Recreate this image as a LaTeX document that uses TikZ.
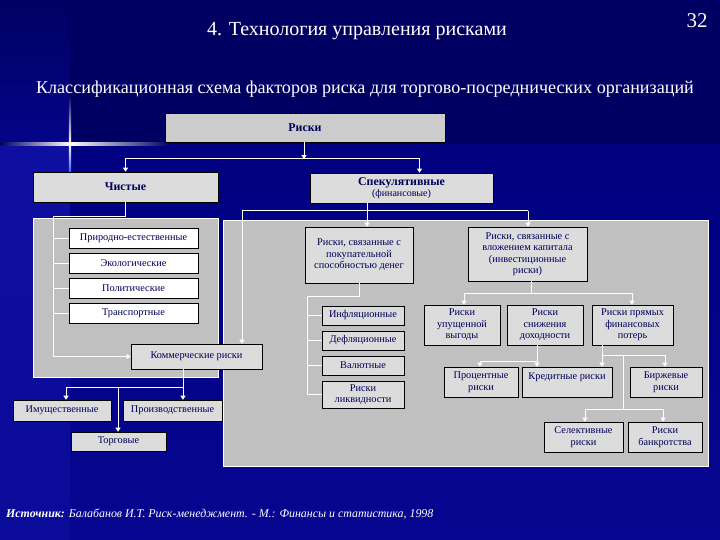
\documentclass[tikz,border=0pt]{standalone}
\usepackage{fontspec}
\setmainfont{Liberation Serif}
\usepackage{xcolor}
\usetikzlibrary{positioning, arrows.meta, shadows}

\definecolor{bgtop}{RGB}{0,0,98}
\definecolor{bgmid}{RGB}{0,0,128}
\definecolor{bgbot}{RGB}{6,6,146}
\definecolor{bgband}{RGB}{14,14,160}
\definecolor{navytext}{RGB}{0,0,90}
\definecolor{panelgray}{RGB}{192,192,192}
\definecolor{headgray}{RGB}{204,204,204}
\definecolor{boxgray}{RGB}{220,220,220}
\definecolor{flare}{RGB}{60,90,255}

\begin{document}
\begin{tikzpicture}[x=1pt, y=-1pt,
    every node/.style={text=navytext, align=center, inner sep=1pt, font=\fontsize{10.3}{11.5}\selectfont},
    shade box/.style={draw=black, line width=0.6pt,
        drop shadow={shadow xshift=1.3pt, shadow yshift=-1.3pt, opacity=1, fill=black!65}},
    headbox/.style={shade box, fill=boxgray, font=\fontsize{11.9}{12.5}\selectfont\bfseries},
    riskbox/.style={shade box, fill=boxgray},
    whitebox/.style={draw=black, line width=0.6pt, fill=white},
    panel/.style={draw=white, line width=0.8pt, fill=panelgray},
    conn/.style={white, line width=1pt},
    arr/.style={conn, -{Triangle[width=5pt, length=4pt]}}]

    \useasboundingbox (0,0) rectangle (720,540);

    % Background
    \shade[top color=bgmid, bottom color=bgbot] (0,144) rectangle (720,540);
    \fill[bgtop] (0,0) rectangle (720,144);
    \shade[top color=bgtop, bottom color=bgmid!70!bgband] (0,0) rectangle (70,144);
    \shade[top color=bgband, bottom color=bgband!80!bgmid] (0,144) rectangle (70,540);

    % Flare
    \shade[left color=bgtop, right color=white] (0,143) rectangle (70,145.5);
    \shade[left color=white, right color=bgtop] (70,143) rectangle (170,145.5);
    \shade[top color=bgtop, bottom color=white] (68.8,95) rectangle (71.2,144);
    \shade[top color=white, bottom color=flare] (68.8,144) rectangle (71.2,172);
    \fill[white] (70,144.2) circle (2);

    % Titles
    \node[text=white, font=\fontsize{20}{24}\selectfont] (title) at (357,31) {4. Технология управления рисками};
    \node[text=white, font=\fontsize{21}{24}\selectfont] (page) at (697,21) {32};
    \node[text=white, font=\fontsize{18.1}{20}\selectfont] (subtitle) at (365,89)
        {Классификационная схема факторов риска для торгово-посреднических организаций};

    % Panels
    \draw[panel] (33,218) rectangle (218,377);
    \draw[panel] (223,220) rectangle (708,466);

    % Top level
    \node[headbox, fill=headgray, minimum width=280, minimum height=29] (riski) at (305,127.5) {Риски};
    \node[headbox, minimum width=185, minimum height=30] (chist) at (125.5,187) {Чистые};
    \node[headbox, minimum width=183, minimum height=30] (spek) at (401.5,188)
        {Спекулятивные\\[-1.5pt]{\mdseries\fontsize{10}{11}\selectfont(финансовые)}};

    % Pure risks
    \node[whitebox, minimum width=129, minimum height=20] (prirod) at (133.5,238) {Природно-естественные};
    \node[whitebox, minimum width=129, minimum height=20] (ekol) at (133.5,263) {Экологические};
    \node[whitebox, minimum width=129, minimum height=20] (polit) at (133.5,288.5) {Политические};
    \node[whitebox, minimum width=129, minimum height=20] (transp) at (133.5,313) {Транспортные};
    \node[riskbox, minimum width=131, minimum height=25] (kom) at (196.5,356.5) {Коммерческие риски};
    \node[riskbox, minimum width=98, minimum height=21] (imush) at (62,410.5) {Имущественные};
    \node[riskbox, minimum width=99, minimum height=21] (proizv) at (172.5,410.5) {Производственные};
    \node[riskbox, minimum width=95, minimum height=19] (torg) at (118.5,441.5) {Торговые};

    % Speculative risks
    \node[riskbox, minimum width=108, minimum height=56] (pok) at (359,255)
        {Риски, связанные с\\покупательной\\способностью денег};
    \node[riskbox, minimum width=119, minimum height=54] (inv) at (527.5,254)
        {Риски, связанные с\\вложением капитала\\(инвестиционные\\риски)};
    \node[riskbox, minimum width=82, minimum height=19] (infl) at (363,315.5) {Инфляционные};
    \node[riskbox, minimum width=82, minimum height=19] (defl) at (363,340.5) {Дефляционные};
    \node[riskbox, minimum width=82, minimum height=19] (valut) at (363,365.5) {Валютные};
    \node[riskbox, minimum width=82, minimum height=27] (likv) at (363,394.5) {Риски\\ликвидности};
    \node[riskbox, minimum width=76, minimum height=40] (upush) at (462,325) {Риски\\упущенной\\выгоды};
    \node[riskbox, minimum width=76, minimum height=40] (snizh) at (545,325) {Риски\\снижения\\доходности};
    \node[riskbox, minimum width=81, minimum height=40] (pryam) at (632.5,325) {Риски прямых\\финансовых\\потерь};
    \node[riskbox, minimum width=74, minimum height=30] (proc) at (481,382) {Процентные\\риски};
    \node[riskbox, minimum width=90, minimum height=30] (kred) at (567,382) {Кредитные риски\\\mbox{}};
    \node[riskbox, minimum width=72, minimum height=30] (birzh) at (666,382) {Биржевые\\риски};
    \node[riskbox, minimum width=79, minimum height=30] (select) at (583.5,437) {Селективные\\риски};
    \node[riskbox, minimum width=74, minimum height=30] (bankr) at (665,437) {Риски\\банкротства};

    % Connectors: top level
    \coordinate (j0) at (304,159);
    \draw[arr] (riski.south -| j0) -- (j0);
    \draw[arr] (j0) -| (chist);
    \draw[arr] (j0) -| ([xshift=18pt]spek.north);

    % Connectors: pure risks
    \coordinate (lbus) at (53,217);
    \draw[conn] (chist) |- (lbus);
    \draw[arr] (lbus) |- (kom.west);
    \foreach \n in {prirod, ekol, polit, transp}
        \draw[conn] (lbus |- \n.west) -- (\n.west);
    \coordinate (kb1) at (66,387);
    \coordinate (kb2) at (118,387);
    \coordinate (kb3) at (183,387);
    \draw[conn] (kom.south -| kb3) -- (kb3) -- (kb1);
    \draw[arr] (kb1) -- (kb1 |- imush.north);
    \draw[arr] (kb2) -- (kb2 |- torg.north);
    \draw[arr] (kb3) -- (kb3 |- proizv.north);

    % Connectors: speculative risks
    \coordinate (sb0) at (367,211);
    \coordinate (sb1) at (242,211);
    \coordinate (sb2) at (528,211);
    \draw[conn] (spek.south -| sb0) -- (sb0);
    \draw[conn] (sb1) -- (sb2);
    \draw[arr] (sb1) -- (sb1 |- kom.north);
    \draw[arr] (sb0) -- (sb0 |- pok.north);
    \draw[arr] (sb2) -- (sb2 |- inv.north);

    \coordinate (pbus) at (307,296);
    \draw[conn] (pok) |- (pbus) |- (likv.west);
    \foreach \n in {infl, defl, valut}
        \draw[conn] (pbus |- \n.west) -- (\n.west);

    \coordinate (ib0) at (531,293);
    \coordinate (ib1) at (464,293);
    \coordinate (ib2) at (632,293);
    \draw[conn] (inv.south -| ib0) -- (ib0);
    \draw[conn] (ib1) -- (ib2);
    \draw[arr] (ib1) -- (ib1 |- upush.north);
    \draw[arr] (ib2) -- (ib2 |- pryam.north);

    \coordinate (db1) at (480,361);
    \coordinate (db2) at (537,361);
    \draw[conn] (snizh.south -| db2) -- (db2) -- (db1);
    \draw[arr] (db1) -- (db1 |- proc.north);
    \draw[arr] (db2) -- (db2 |- kred.north);

    \coordinate (fb1) at (602,355);
    \coordinate (fb2) at (665,355);
    \coordinate (fb3) at (623,355);
    \coordinate (fb4) at (623,409);
    \coordinate (fb5) at (585,409);
    \coordinate (fb6) at (663,409);
    \draw[conn] (pryam.south -| fb1) -- (fb1) -- (fb2);
    \draw[arr] (fb1) -- (fb1 |- kred.north);
    \draw[arr] (fb2) -- (fb2 |- birzh.north);
    \draw[conn] (fb3) -- (fb4);
    \draw[conn] (fb5) -- (fb6);
    \draw[arr] (fb5) -- (fb5 |- select.north);
    \draw[arr] (fb6) -- (fb6 |- bankr.north);

    % Source
    \node[anchor=west, text=white, font=\fontsize{11.9}{13}\selectfont\itshape] (source) at (5,514)
        {\textbf{Источник:} Балабанов И.Т. Риск-менеджмент. - М.: Финансы и статистика, 1998};
\end{tikzpicture}
\end{document}
